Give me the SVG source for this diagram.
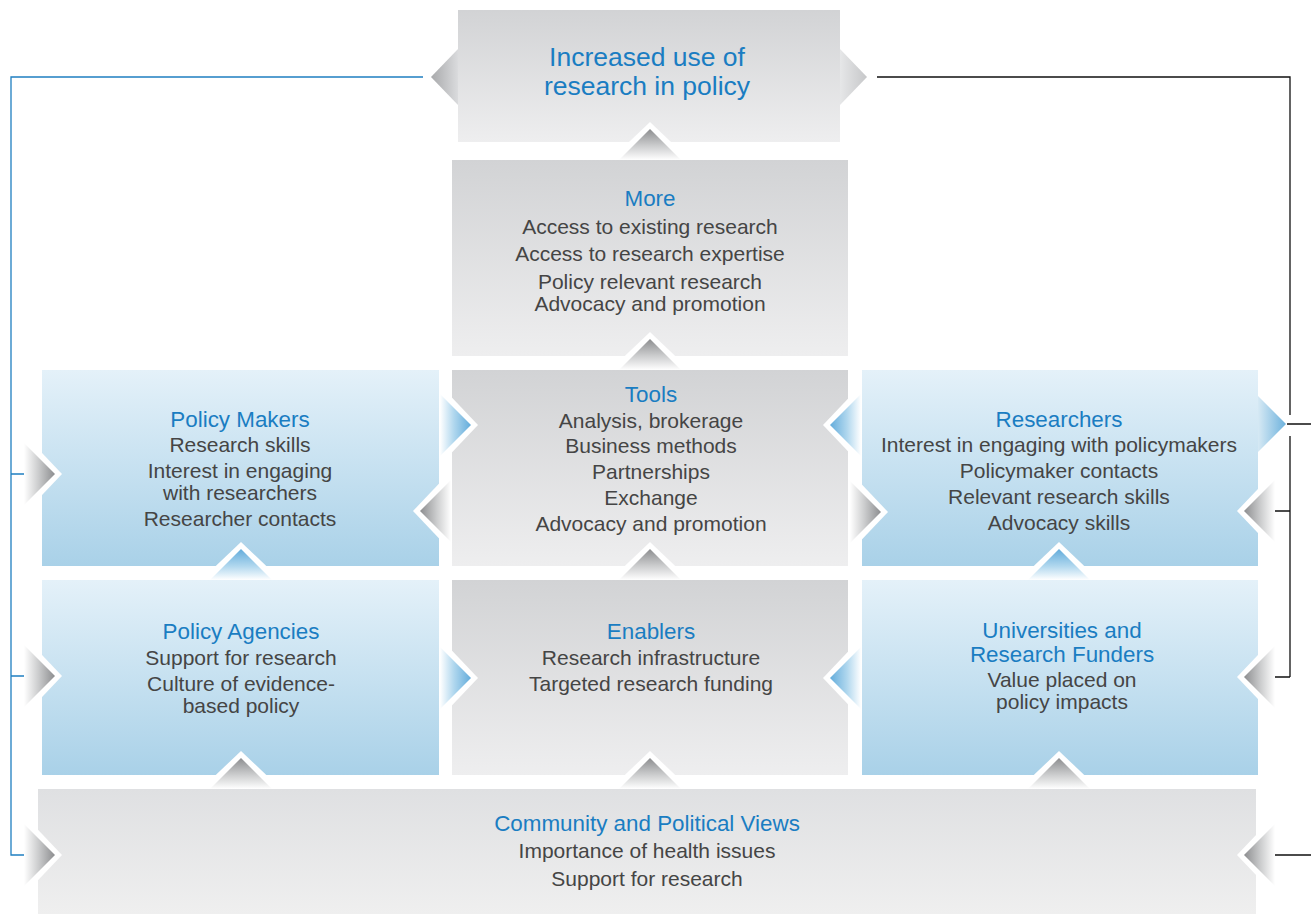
<svg xmlns="http://www.w3.org/2000/svg" xmlns:xlink="http://www.w3.org/1999/xlink" width="1311" height="914" viewBox="0 0 1311 914">
  <style>
    text { font-family: "Liberation Sans", Arial, sans-serif; font-size: 21px; text-anchor: middle; }
    .h { fill: #1a7dc2; font-size: 22.4px; }
    .b { fill: #454545; }
    .big { font-size: 26.5px; }
    .lineBlue { fill: none; stroke: #1f7fc1; stroke-width: 1.3; }
    .lineDark { fill: none; stroke: #111; stroke-width: 1.3; }
  </style>
  <defs>
    <linearGradient id="boxGray" x1="0" y1="0" x2="0" y2="1">
      <stop offset="0" stop-color="#d2d3d5"/>
      <stop offset="1" stop-color="#eeeeef"/>
    </linearGradient>
    <linearGradient id="boxBlue" x1="0" y1="0" x2="0" y2="1">
      <stop offset="0" stop-color="#e4f1f9"/>
      <stop offset="1" stop-color="#a9d1e8"/>
    </linearGradient>
    <linearGradient id="boxComm" x1="0" y1="0" x2="0" y2="1">
      <stop offset="0" stop-color="#dfe0e2"/>
      <stop offset="1" stop-color="#efefef"/>
    </linearGradient>
    <!-- arrow tips: offset 0 = apex, offset 1 = base -->
    <linearGradient id="tipGray" x1="0" y1="0" x2="0" y2="1">
      <stop offset="0" stop-color="#8c8d8f"/>
      <stop offset="0.55" stop-color="#cdcecf"/>
      <stop offset="1" stop-color="#ffffff"/>
    </linearGradient>
    <linearGradient id="tipBlue" x1="0" y1="0" x2="0" y2="1">
      <stop offset="0" stop-color="#63acdb"/>
      <stop offset="0.55" stop-color="#b0d7ee"/>
      <stop offset="1" stop-color="#ffffff"/>
    </linearGradient>
    <linearGradient id="tabGrayG" x1="0" y1="0" x2="0" y2="1">
      <stop offset="0" stop-color="#a8a9ab"/>
      <stop offset="1" stop-color="#dadbdd"/>
    </linearGradient>
    <linearGradient id="tabLightG" x1="0" y1="0" x2="0" y2="1">
      <stop offset="0" stop-color="#c6c7c9"/>
      <stop offset="1" stop-color="#e6e7e8"/>
    </linearGradient>
    <linearGradient id="tabBlueG" x1="0" y1="0" x2="0" y2="1">
      <stop offset="0" stop-color="#6db2dd"/>
      <stop offset="1" stop-color="#d6e9f4"/>
    </linearGradient>
    <!-- chevron pointing up, base on y=0 -->
    <g id="chevGray">
      <polygon points="-40,0 0,-38 40,0" fill="#fff"/>
      <polygon points="-31,0 0,-31 31,0" fill="url(#tipGray)"/>
    </g>
    <g id="chevBlue">
      <polygon points="-40,0 0,-38 40,0" fill="#fff"/>
      <polygon points="-31,0 0,-31 31,0" fill="url(#tipBlue)"/>
    </g>
    <polygon id="tabGray" points="-28,0 0,-27 28,0" fill="url(#tabGrayG)"/>
    <polygon id="tabLight" points="-28,0 0,-27 28,0" fill="url(#tabLightG)"/>
    <polygon id="tabBlue" points="-28,0 0,-28 28,0" fill="url(#tabBlueG)"/>
  </defs>

  <rect width="1311" height="914" fill="#fff"/>

  <!-- boxes -->
  <g id="node-goal">
    <rect x="458" y="10" width="382" height="132" fill="url(#boxGray)"/>
  </g>
  <g id="node-more">
    <rect x="452" y="160" width="396" height="196" fill="url(#boxGray)"/>
  </g>
  <g id="node-tools">
    <rect x="452" y="370" width="396" height="196" fill="url(#boxGray)"/>
  </g>
  <g id="node-policy-makers">
    <rect x="42" y="370" width="397" height="196" fill="url(#boxBlue)"/>
  </g>
  <g id="node-researchers">
    <rect x="862" y="370" width="396" height="196" fill="url(#boxBlue)"/>
  </g>
  <g id="node-policy-agencies">
    <rect x="42" y="580" width="397" height="195" fill="url(#boxBlue)"/>
  </g>
  <g id="node-enablers">
    <rect x="452" y="580" width="396" height="195" fill="url(#boxGray)"/>
  </g>
  <g id="node-universities">
    <rect x="862" y="580" width="396" height="195" fill="url(#boxBlue)"/>
  </g>
  <g id="node-community">
    <rect x="38" y="789" width="1218" height="125" fill="url(#boxComm)"/>
  </g>

  <!-- connectors: feedback lines and chevron arrows -->
  <g id="connectors">
    <path class="lineBlue" d="M423,77 H11 V855 H24 M11,474 H25 M11,676 H25"/>
    <path class="lineDark" d="M877,77 H1290 V415 M1287,424 H1311 M1290,436 V677 M1273,511 H1290 M1273,677 H1290 M1272,855 H1311"/>

    <!-- upward -->
    <use xlink:href="#chevGray" transform="translate(650,160)"/>
    <use xlink:href="#chevGray" transform="translate(650,370)"/>
    <use xlink:href="#chevGray" transform="translate(650,580)"/>
    <use xlink:href="#chevGray" transform="translate(650,789)"/>
    <use xlink:href="#chevBlue" transform="translate(241,580)"/>
    <use xlink:href="#chevGray" transform="translate(241,789)"/>
    <use xlink:href="#chevBlue" transform="translate(1059,580)"/>
    <use xlink:href="#chevGray" transform="translate(1059,789)"/>

    <!-- pointing right -->
    <use xlink:href="#chevBlue" transform="translate(440,425) rotate(90)"/>
    <use xlink:href="#chevBlue" transform="translate(440,678) rotate(90)"/>
    <use xlink:href="#chevGray" transform="translate(850,512) rotate(90)"/>
    <use xlink:href="#chevGray" transform="translate(24,474) rotate(90)"/>
    <use xlink:href="#chevGray" transform="translate(24,676) rotate(90)"/>
    <use xlink:href="#chevGray" transform="translate(24,855) rotate(90)"/>

    <!-- pointing left -->
    <use xlink:href="#chevGray" transform="translate(451,511) rotate(-90)"/>
    <use xlink:href="#chevBlue" transform="translate(861,425) rotate(-90)"/>
    <use xlink:href="#chevBlue" transform="translate(861,678) rotate(-90)"/>
    <use xlink:href="#chevGray" transform="translate(1275,511) rotate(-90)"/>
    <use xlink:href="#chevGray" transform="translate(1275,677) rotate(-90)"/>
    <use xlink:href="#chevGray" transform="translate(1275,855) rotate(-90)"/>

    <!-- outer tabs -->
    <use xlink:href="#tabGray" transform="translate(458,77) rotate(-90)"/>
    <use xlink:href="#tabLight" transform="translate(840,77) rotate(90)"/>
    <use xlink:href="#tabBlue" transform="translate(1258,424) rotate(90)"/>
  </g>

  <!-- labels -->
  <g id="label-goal">
    <text class="h big" x="647" y="66">Increased use of</text>
    <text class="h big" x="647" y="95">research in policy</text>
  </g>
  <g id="label-more">
    <text class="h" x="650" y="206">More</text>
    <text class="b" x="650" y="234">Access to existing research</text>
    <text class="b" x="650" y="261">Access to research expertise</text>
    <text class="b" x="650" y="289">Policy relevant research</text>
    <text class="b" x="650" y="311">Advocacy and promotion</text>
  </g>
  <g id="label-tools">
    <text class="h" x="651" y="402">Tools</text>
    <text class="b" x="651" y="428">Analysis, brokerage</text>
    <text class="b" x="651" y="453">Business methods</text>
    <text class="b" x="651" y="479">Partnerships</text>
    <text class="b" x="651" y="505">Exchange</text>
    <text class="b" x="651" y="531">Advocacy and promotion</text>
  </g>
  <g id="label-policy-makers">
    <text class="h" x="240" y="427">Policy Makers</text>
    <text class="b" x="240" y="452">Research skills</text>
    <text class="b" x="240" y="478">Interest in engaging</text>
    <text class="b" x="240" y="500">with researchers</text>
    <text class="b" x="240" y="526">Researcher contacts</text>
  </g>
  <g id="label-researchers">
    <text class="h" x="1059" y="427">Researchers</text>
    <text class="b" x="1059" y="452">Interest in engaging with policymakers</text>
    <text class="b" x="1059" y="478">Policymaker contacts</text>
    <text class="b" x="1059" y="504">Relevant research skills</text>
    <text class="b" x="1059" y="530">Advocacy skills</text>
  </g>
  <g id="label-policy-agencies">
    <text class="h" x="241" y="639">Policy Agencies</text>
    <text class="b" x="241" y="665">Support for research</text>
    <text class="b" x="241" y="691">Culture of evidence-</text>
    <text class="b" x="241" y="713">based policy</text>
  </g>
  <g id="label-enablers">
    <text class="h" x="651" y="639">Enablers</text>
    <text class="b" x="651" y="665">Research infrastructure</text>
    <text class="b" x="651" y="691">Targeted research funding</text>
  </g>
  <g id="label-universities">
    <text class="h" x="1062" y="638">Universities and</text>
    <text class="h" x="1062" y="661.5">Research Funders</text>
    <text class="b" x="1062" y="687">Value placed on</text>
    <text class="b" x="1062" y="709">policy impacts</text>
  </g>
  <g id="label-community">
    <text class="h" x="647" y="831">Community and Political Views</text>
    <text class="b" x="647" y="858">Importance of health issues</text>
    <text class="b" x="647" y="886">Support for research</text>
  </g>
</svg>
